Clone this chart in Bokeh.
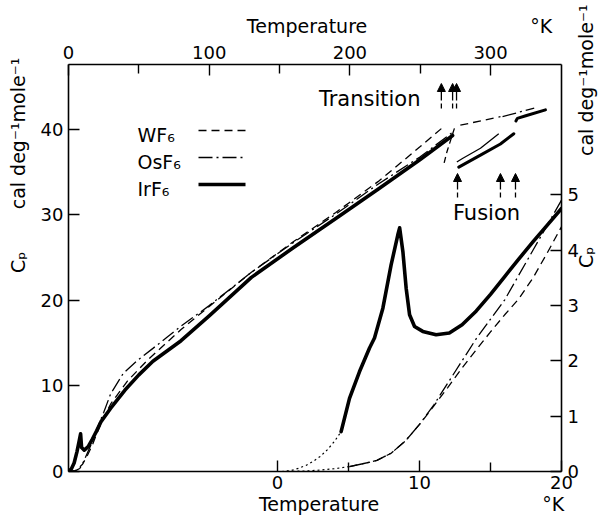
import math
from bokeh.plotting import figure
from bokeh.models import Range1d, LinearAxis, FixedTicker, Label, Arrow, NormalHead
from bokeh.embed import file_html
from bokeh.resources import INLINE

# ---------------- data ----------------
# high-temperature curves (top axis: T / K, left axis: Cp / cal deg-1 mole-1)
wf6_T  = [0, 5, 10, 13.5, 17, 20, 25, 30, 42, 56, 70, 80, 100, 130, 160, 190, 220, 250, 265]
wf6_Cp = [0, 0.1, 0.85, 1.9, 3.1, 4.4, 6.3, 7.9, 10.6, 13.0, 15.1, 16.6, 19.3, 23.3, 26.9, 30.3, 33.9, 38.0, 40.1]
wf6_II_T  = [267, 269, 271.5, 275]
wf6_II_Cp = [36.1, 37.4, 38.7, 40.5]
wf6_liq_T  = [278.5, 307]
wf6_liq_Cp = [40.5, 41.5]

osf6_T  = [0, 5, 8, 10, 13.5, 17, 20, 25, 30, 39, 49, 60, 70, 80, 100, 130, 160, 190, 220, 250, 274]
osf6_Cp = [0, 0.1, 0.35, 0.9, 2.2, 3.5, 4.9, 6.9, 9.1, 11.5, 13.0, 14.4, 15.7, 17.0, 19.4, 23.3, 26.8, 30.1, 33.6, 36.8, 39.8]
osf6_II_T  = [276, 280, 292.8, 305.8]
osf6_II_Cp = [36.2, 36.6, 37.8, 39.5]
osf6_liq_T  = [308.5, 331]
osf6_liq_Cp = [41.5, 42.5]

irf6_T  = [0, 2, 4, 6, 7.5, 8.6, 9.3, 11.2, 14, 17, 20, 23, 30, 40, 50, 60, 70, 80, 100, 130, 160, 190, 220, 250, 273]
irf6_Cp = [0, 0.3, 1.0, 2.3, 3.5, 4.4, 2.8, 2.5, 2.9, 3.8, 4.75, 5.8, 7.4, 9.5, 11.3, 12.9, 14.1, 15.3, 18.2, 22.7, 26.2, 29.6, 33.0, 36.5, 39.3]
irf6_II_T  = [277.4, 292.8, 307, 316.5]
irf6_II_Cp = [35.6, 37.0, 38.3, 39.5]
irf6_liq_T  = [318, 319, 325, 339]
irf6_liq_Cp = [41.0, 41.3, 41.6, 42.3]

transition_T = [265, 273, 275.8]
fusion_T = [276.5, 307, 317.7]

# low-temperature curves (bottom axis: T / K, right axis: Cp)
common_dot_T  = [0.35, 1, 2, 3, 4, 5.07]
common_dot_Cp = [0, 0.002, 0.01, 0.025, 0.05, 0.09]
irf6_dot_T  = [0.3, 1, 1.5, 2, 2.5, 3, 3.5, 4, 4.48]
irf6_dot_Cp = [0, 0.02, 0.06, 0.11, 0.18, 0.27, 0.39, 0.54, 0.72]
irf6_low_T  = [4.48, 5.07, 5.77, 6.48, 6.83, 7.42, 8.0, 8.47, 8.6, 8.83, 9.06, 9.3, 9.65, 10.23, 11.17, 12.1, 13.0, 14.0, 15.0, 16.0, 17.0, 18.0, 19.0, 20.0]
irf6_low_Cp = [0.72, 1.32, 1.80, 2.23, 2.41, 2.95, 3.73, 4.27, 4.4, 3.97, 3.31, 2.83, 2.62, 2.53, 2.47, 2.5, 2.65, 2.9, 3.2, 3.52, 3.84, 4.15, 4.45, 4.75]
osf6_low_T  = [5.07, 6, 7, 8, 9, 10, 11, 12, 13, 14, 15, 16, 17, 18, 19, 20]
osf6_low_Cp = [0.09, 0.14, 0.2, 0.33, 0.55, 0.85, 1.2, 1.6, 2.0, 2.4, 2.75, 3.1, 3.55, 4.0, 4.45, 4.9]
wf6_low_T  = [5.07, 6, 7, 8, 9, 10, 11, 12, 13, 14, 15, 16, 17, 18, 19, 20]
wf6_low_Cp = [0.09, 0.14, 0.2, 0.33, 0.55, 0.85, 1.18, 1.52, 1.87, 2.2, 2.52, 2.83, 3.12, 3.5, 3.95, 4.42]

top_ticks = [0, 100, 200, 300]
top_minor = [50, 150, 250]
left_ticks = [0, 10, 20, 30, 40]
bottom_ticks = [0, 10, 20]
bottom_minor = [5, 15]
right_ticks = [0, 1, 2, 3, 4, 5]

legend_names = ["WF₆", "OsF₆", "IrF₆"]

# ---------------- layout ----------------
FONT = "DejaVu Sans"
FL, FT, FW, FH = 68, 64, 493, 407          # frame in page pixels
XMAX = 350.4
YMAX = 47.6
NB = "\u00a0"

def dx(px):
    return (px - FL) / FW * XMAX

def dy(py):
    return (FT + FH - py) / FH * YMAX

p = figure(frame_width=FW, frame_height=FH,
           x_range=Range1d(0, XMAX), y_range=Range1d(0, YMAX),
           output_backend="svg", toolbar_location=None, x_axis_location="above",
           min_border_left=FL, min_border_right=44, min_border_top=FT, min_border_bottom=48)
p.extra_x_ranges = {"lowT": Range1d(-14.72, 20)}
p.extra_y_ranges = {"lowCp": Range1d(0, 7.35)}
p.grid.visible = False
p.outline_line_color = None
p.background_fill_color = "white"
p.border_fill_color = "white"

def style(ax, standoff=5, lab_standoff=5):
    ax.axis_line_width = 1.6
    ax.axis_line_color = "black"
    ax.major_tick_out = 0
    ax.major_tick_in = 11
    ax.minor_tick_out = 0
    ax.minor_tick_in = 9
    ax.major_tick_line_width = 1.4
    ax.minor_tick_line_width = 1.4
    ax.major_label_text_font = FONT
    ax.major_label_text_font_size = "18px"
    ax.major_label_text_color = "black"
    ax.major_label_standoff = standoff
    ax.axis_label_text_font = FONT
    ax.axis_label_text_font_size = "19px"
    ax.axis_label_text_font_style = "normal"
    ax.axis_label_text_color = "black"
    ax.axis_label_standoff = lab_standoff

top = p.xaxis[0]
top.ticker = FixedTicker(ticks=top_ticks, minor_ticks=top_minor)
style(top, standoff=6, lab_standoff=6)
top.axis_label = NB * 28 + "Temperature" + NB * 27 + "°K"

left = p.yaxis[0]
left.ticker = FixedTicker(ticks=left_ticks, minor_ticks=[])
style(left, standoff=5, lab_standoff=9)
left.axis_label = NB * 34 + "Cₚ" + NB * 7 + "cal deg⁻¹mole⁻¹"

bottom = LinearAxis(x_range_name="lowT", ticker=FixedTicker(ticks=bottom_ticks, minor_ticks=bottom_minor))
style(bottom, standoff=4, lab_standoff=1)
bottom.axis_label = NB * 32 + "Temperature" + NB * 27 + "°K"
p.add_layout(bottom, "below")

right = LinearAxis(y_range_name="lowCp", ticker=FixedTicker(ticks=right_ticks, minor_ticks=[]))
style(right, standoff=6, lab_standoff=4)
right.axis_label = "Cₚ" + NB * 15 + "cal deg⁻¹mole⁻¹"
try:
    right.axis_label_orientation = math.pi / 2
except Exception:
    pass
p.add_layout(right, "right")

THIN = 1.3
THICK = 3.6
DASH = "8 5"
DASHDOT = "14 4 2 4"

# high-T curves
p.line(wf6_T, wf6_Cp, line_color="black", line_width=THIN, line_dash=DASH)
p.line(wf6_II_T, wf6_II_Cp, line_color="black", line_width=THIN, line_dash="6 4")
p.line(wf6_liq_T, wf6_liq_Cp, line_color="black", line_width=THIN, line_dash=DASH)
p.line(osf6_T, osf6_Cp, line_color="black", line_width=THIN, line_dash=DASHDOT)
p.line(osf6_II_T, osf6_II_Cp, line_color="black", line_width=THIN)
p.line(osf6_liq_T, osf6_liq_Cp, line_color="black", line_width=THIN, line_dash=DASHDOT)
p.line(irf6_T, irf6_Cp, line_color="black", line_width=THICK, line_join="round", line_cap="round")
p.line(irf6_II_T, irf6_II_Cp, line_color="black", line_width=THICK - 0.6, line_cap="round")
p.line(irf6_liq_T, irf6_liq_Cp, line_color="black", line_width=THICK - 0.6, line_cap="round")

# low-T curves
kw = dict(x_range_name="lowT", y_range_name="lowCp", line_color="black")
p.line(common_dot_T, common_dot_Cp, line_width=1.2, line_dash="2 3", **kw)
p.line(irf6_dot_T, irf6_dot_Cp, line_width=1.2, line_dash="2 3", **kw)
p.line(irf6_low_T, irf6_low_Cp, line_width=THICK, line_join="round", line_cap="round", **kw)
p.line(osf6_low_T, osf6_low_Cp, line_width=THIN, line_dash=DASHDOT, **kw)
p.line(wf6_low_T, wf6_low_Cp, line_width=THIN, line_dash=DASH, **kw)

# arrows
for t in transition_T:
    p.add_layout(Arrow(end=NormalHead(size=8, fill_color="black", line_color="black"),
                       x_start=t, y_start=dy(108), x_end=t, y_end=dy(83),
                       line_width=1.3, line_dash="5 3 30"))
for t in fusion_T:
    p.add_layout(Arrow(end=NormalHead(size=8, fill_color="black", line_color="black"),
                       x_start=t, y_start=dy(197), x_end=t, y_end=dy(173),
                       line_width=1.3, line_dash="5 3 30"))

def lab(px, py, text, size="19px", align="center"):
    p.add_layout(Label(x=dx(px), y=dy(py), text=text, text_align=align, text_baseline="middle",
                       text_font=FONT, text_font_size=size, text_color="black"))

# legend (text first, sample line after it)
legend_y = [134, 161, 188]
legend_style = [(DASH, THIN), (DASHDOT, THIN), ("solid", THICK)]
for name, py, (dash, w) in zip(legend_names, legend_y, legend_style):
    lab(137, py, name, align="left")
    p.line([dx(198), dx(245)], [dy(py - 4), dy(py - 4)], line_color="black", line_width=w, line_dash=dash)

lab(420, 98, "Transition", size="21px", align="right")
lab(486, 212, "Fusion", size="21px")

open("out.html", "w").write(file_html(p, INLINE))
